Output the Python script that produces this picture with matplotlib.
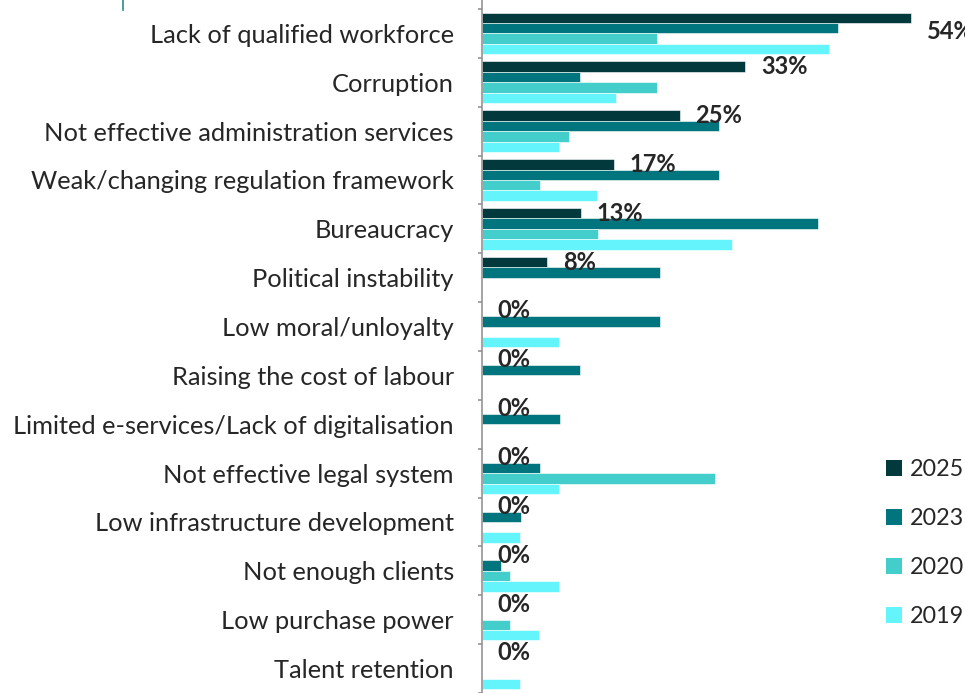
import matplotlib
matplotlib.use('Agg')
import matplotlib.pyplot as plt
from matplotlib.patches import Patch
from matplotlib.lines import Line2D
import numpy as np

plt.rcParams['font.family'] = ['Lato', 'DejaVu Sans']

categories = ['Lack of qualified workforce', 'Corruption', 'Not effective administration services',
              'Weak/changing regulation framework', 'Bureaucracy', 'Political instability',
              'Low moral/unloyalty', 'Raising the cost of labour',
              'Limited e-services/Lack of digitalisation', 'Not effective legal system',
              'Low infrastructure development', 'Not enough clients', 'Low purchase power',
              'Talent retention']

years = ['2025', '2023', '2020', '2019']
v2025 = [54.2, 33.3, 25.0, 16.7, 12.5, 8.3, 0, 0, 0, 0, 0, 0, 0, 0]
v2023 = [45.0, 12.4, 30.0, 30.0, 42.4, 22.5, 22.5, 12.4, 9.9, 7.4, 4.9, 2.4, 0, 0]
v2020 = [22.1, 22.1, 11.0, 7.3, 14.7, 0, 0, 0, 0, 29.5, 0, 3.6, 3.6, 0]
v2019 = [43.8, 17.0, 9.7, 14.5, 31.6, 0, 9.7, 0, 0, 9.7, 4.8, 9.7, 7.2, 4.8]
labels_2025 = ['54%', '33%', '25%', '17%', '13%', '8%', '0%', '0%', '0%', '0%', '0%', '0%', '0%', '0%']

colors = ['#02393D', '#00757D', '#43CECB', '#64F4FC']
series = [v2025, v2023, v2020, v2019]

W, H = 965, 693
fig = plt.figure(figsize=(9.65, 6.93), dpi=100)
# axes spans from the y axis line to the right edge of the image
ax = fig.add_axes([481.7 / W, 0, 1 - 481.7 / W, 1])

y = np.arange(len(categories))
bh = 0.2127
offsets = [-1.5 * bh, -0.5 * bh, 0.5 * bh, 1.5 * bh]
for vals, c, off, yr in zip(series, colors, offsets, years):
    ax.barh(y + off, vals, height=bh, color=c, edgecolor='white', linewidth=0.4, label=yr)

# data labels for 2025
for i, (v, t) in enumerate(zip(v2025, labels_2025)):
    dy = 0.27 if i == 0 else 0.0   # first label sits a bit lower in the original
    ax.text(v + 2.0, i + offsets[0] + dy, t, ha='left', va='center', fontsize=17,
            fontweight='bold', color='#262626', clip_on=False)

px = 7.92  # pixels per percent
ax.set_xlim(0, (W - 481.7) / px)
top_px = 9.0
step = 49.0
y_top = -0.5 - top_px / step
ax.set_ylim(y_top + H / step, y_top)

ax.set_yticks(y)
ax.set_yticklabels(categories, fontsize=18.3, color='#262626')
ax.tick_params(axis='y', which='major', length=0, pad=20)
ax.set_yticks(np.arange(len(categories) + 1) - 0.5, minor=True)
ax.tick_params(axis='y', which='minor', length=3, width=1.1, color='#8C8C8C')
ax.set_xticks([])
for s in ['top', 'right', 'bottom']:
    ax.spines[s].set_visible(False)
ax.spines['left'].set_color('#8C8C8C')
ax.spines['left'].set_linewidth(1.1)

handles = [Patch(facecolor=c, edgecolor='none') for c in colors]
ax.legend(handles, years, loc='upper left', bbox_to_anchor=(877 / W, 1 - 450 / H),
          bbox_transform=fig.transFigure, frameon=False, fontsize=16.8,
          handlelength=0.65, handleheight=0.65, handletextpad=0.35,
          labelspacing=1.2, labelcolor='#262626', borderaxespad=0)

# small stray mark at the top left in the original
fig.add_artist(Line2D([123 / W, 123 / W], [1, 1 - 10 / H], color='#2A8C94', linewidth=1.2))

fig.savefig('out.png', dpi=100)
